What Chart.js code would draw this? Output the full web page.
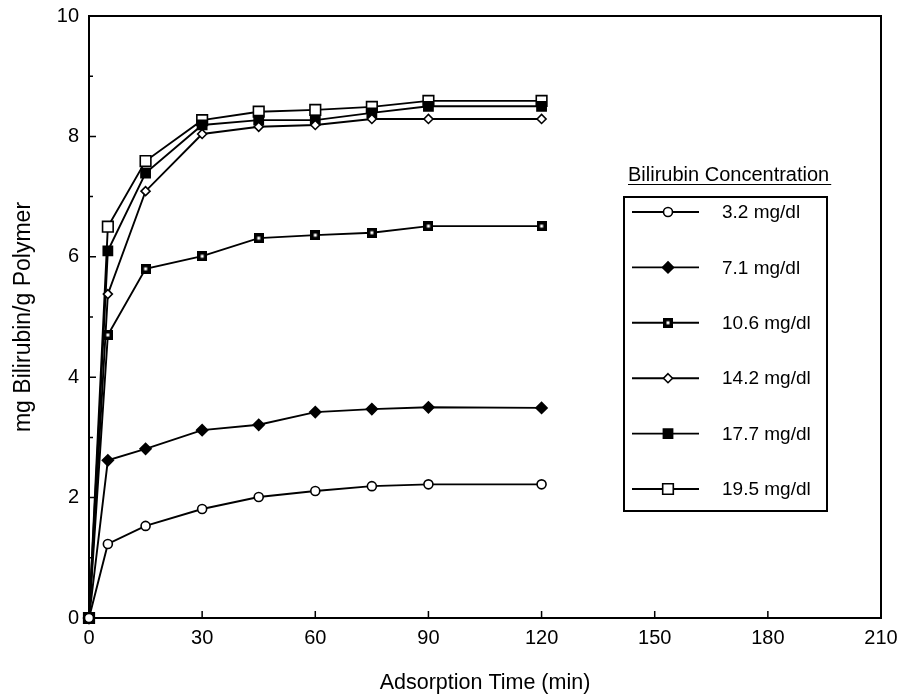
<!DOCTYPE html>
<html lang="en">
<head>
<meta charset="UTF-8">
<title>Bilirubin Adsorption</title>
<script src="https://cdn.jsdelivr.net/npm/chart.js"></script>
<style>
    html, body { margin: 0; padding: 0; background: #fff; }
    #wrap { width: 902px; height: 696px; }
</style>
</head>
<body>
<div id="wrap">
    <canvas id="adsChart" width="902" height="696"></canvas>
</div>
<script>
    // Adsorption time (min)
    const times = [0, 5, 15, 30, 45, 60, 75, 90, 120];

    // mg bilirubin / g polymer, one array per bilirubin concentration
    const conc32 = [0, 1.23, 1.53, 1.81, 2.01, 2.11, 2.19, 2.22, 2.22];
    const conc71 = [0, 2.62, 2.81, 3.12, 3.21, 3.42, 3.47, 3.50, 3.49];
    const conc106 = [0, 4.70, 5.80, 6.01, 6.31, 6.36, 6.40, 6.51, 6.51];
    const conc142 = [0, 5.38, 7.09, 8.04, 8.16, 8.19, 8.29, 8.29, 8.29];
    const conc177 = [0, 6.10, 7.39, 8.19, 8.27, 8.27, 8.39, 8.50, 8.50];
    const conc195 = [0, 6.50, 7.59, 8.27, 8.41, 8.44, 8.49, 8.59, 8.59];

    const seriesLabels = ['3.2 mg/dl', '7.1 mg/dl', '10.6 mg/dl', '14.2 mg/dl', '17.7 mg/dl', '19.5 mg/dl'];
    const xTicks = [0, 30, 60, 90, 120, 150, 180, 210];
    const yTicks = [0, 2, 4, 6, 8, 10];
    const yMinorTicks = [1, 3, 5, 7, 9];

    const FONT = '"Liberation Sans", Arial, Helvetica, sans-serif';

    // black square with a little white dot in the middle
    function dotSquare(size) {
        const c = document.createElement('canvas');
        c.width = size; c.height = size;
        const g = c.getContext('2d');
        g.fillStyle = '#000';
        g.fillRect(0, 0, size, size);
        g.fillStyle = '#fff';
        g.fillRect(size / 2 - 1.5, size / 2 - 1.5, 3, 3);
        return c;
    }
    const dotSq = dotSquare(10);

    // marker look for each series (same order as seriesLabels)
    const markers = [
        { style: 'circle', radius: 4.5, fill: '#fff' },
        { style: 'rectRot', radius: 5.5, fill: '#000' },
        { style: dotSq, radius: 5, fill: '#000' },
        { style: 'rectRot', radius: 4.5, fill: '#fff' },
        { style: 'rect', radius: 6.5, fill: '#000' },
        { style: 'rect', radius: 7.5, fill: '#fff' }
    ];

    const values = [conc32, conc71, conc106, conc142, conc177, conc195];

    const datasets = values.map((vals, i) => ({
        label: seriesLabels[i],
        data: vals.map((v, j) => ({ x: times[j], y: v })),
        borderColor: '#000',
        borderWidth: 1.9,
        pointStyle: markers[i].style,
        pointRadius: markers[i].radius,
        pointBackgroundColor: markers[i].fill,
        pointBorderColor: '#000',
        pointBorderWidth: 1.6,
        tension: 0,
        clip: false
    }));

    // draw one legend marker by hand
    function drawMarker(ctx, m, x, y) {
        ctx.save();
        ctx.fillStyle = m.fill;
        ctx.strokeStyle = '#000';
        ctx.lineWidth = 1.6;
        ctx.beginPath();
        if (m.style === 'circle') {
            ctx.arc(x, y, m.radius, 0, Math.PI * 2);
        } else if (m.style === 'rectRot') {
            ctx.moveTo(x, y - m.radius);
            ctx.lineTo(x + m.radius, y);
            ctx.lineTo(x, y + m.radius);
            ctx.lineTo(x - m.radius, y);
            ctx.closePath();
        } else if (m.style === 'rect') {
            const s = m.radius * Math.SQRT1_2;
            ctx.rect(x - s, y - s, 2 * s, 2 * s);
        } else {
            ctx.drawImage(m.style, x - m.style.width / 2, y - m.style.height / 2);
            ctx.restore();
            return;
        }
        ctx.fill();
        ctx.stroke();
        ctx.restore();
    }

    // frame around the plot and inward tick marks
    const framePlugin = {
        id: 'frame',
        beforeDatasetsDraw(chart) {
            const { ctx, chartArea: a, scales } = chart;
            ctx.save();
            ctx.strokeStyle = '#000';
            ctx.lineWidth = 2;
            ctx.strokeRect(a.left, a.top, a.right - a.left, a.bottom - a.top);
            ctx.lineWidth = 1.5;
            ctx.beginPath();
            xTicks.forEach(t => {
                const px = scales.x.getPixelForValue(t);
                ctx.moveTo(px, a.bottom);
                ctx.lineTo(px, a.bottom - 7);
            });
            yTicks.forEach(t => {
                const py = scales.y.getPixelForValue(t);
                ctx.moveTo(a.left, py);
                ctx.lineTo(a.left + 7, py);
            });
            yMinorTicks.forEach(t => {
                const py = scales.y.getPixelForValue(t);
                ctx.moveTo(a.left, py);
                ctx.lineTo(a.left + 4, py);
            });
            ctx.stroke();
            ctx.restore();
        }
    };

    // boxed legend with an underlined heading
    const legendPlugin = {
        id: 'boxLegend',
        afterDraw(chart) {
            const ctx = chart.ctx;
            ctx.save();
            ctx.fillStyle = '#000';
            ctx.font = '20px ' + FONT;
            ctx.textBaseline = 'alphabetic';
            ctx.textAlign = 'left';
            const title = 'Bilirubin Concentration';
            ctx.fillText(title, 628, 181);
            const tw = ctx.measureText(title).width;
            ctx.lineWidth = 1;
            ctx.beginPath();
            ctx.moveTo(628, 184.5);
            ctx.lineTo(628 + tw + 2, 184.5);
            ctx.stroke();

            ctx.lineWidth = 2;
            ctx.strokeRect(624, 197, 203, 314);

            ctx.font = '19px ' + FONT;
            ctx.textBaseline = 'middle';
            seriesLabels.forEach((lab, i) => {
                const y = 212 + i * 55.4;
                ctx.lineWidth = 1.9;
                ctx.beginPath();
                ctx.moveTo(632, y);
                ctx.lineTo(699, y);
                ctx.stroke();
                drawMarker(ctx, markers[i], 668, y);
                ctx.fillStyle = '#000';
                ctx.fillText(lab, 722, y + 1);
            });
            ctx.restore();
        }
    };

    // keep tick labels from pushing the plot area inward
    function noOverflow(scale) {
        scale.paddingTop = 0;
        scale.paddingBottom = 0;
        scale.paddingLeft = 0;
        scale.paddingRight = 0;
    }

    const ctx = document.getElementById('adsChart').getContext('2d');
    const adsChart = new Chart(ctx, {
        type: 'line',
        data: { datasets: datasets },
        options: {
            responsive: false,
            animation: false,
            layout: { padding: { top: 16, right: 21, left: 0, bottom: 0 } },
            plugins: {
                legend: { display: false },
                tooltip: { enabled: false }
            },
            scales: {
                x: {
                    type: 'linear',
                    min: 0,
                    max: 210,
                    afterFit(scale) { scale.height = 78; noOverflow(scale); },
                    afterBuildTicks(scale) { scale.ticks = xTicks.map(v => ({ value: v })); },
                    grid: { display: false, drawTicks: false },
                    border: { display: false },
                    ticks: {
                        padding: 8,
                        color: '#000',
                        maxRotation: 0,
                        font: { family: FONT, size: 20 }
                    },
                    title: {
                        display: true,
                        text: 'Adsorption Time (min)',
                        color: '#000',
                        padding: { top: 0, bottom: 0 },
                        font: { family: FONT, size: 21.5 }
                    }
                },
                y: {
                    min: 0,
                    max: 10,
                    afterFit(scale) { scale.width = 89; noOverflow(scale); },
                    afterBuildTicks(scale) { scale.ticks = yTicks.map(v => ({ value: v })); },
                    grid: { display: false, drawTicks: false },
                    border: { display: false },
                    ticks: {
                        padding: 10,
                        color: '#000',
                        font: { family: FONT, size: 20 }
                    },
                    title: {
                        display: true,
                        text: 'mg Bilirubin/g Polymer',
                        color: '#000',
                        padding: { top: 10, bottom: 0 },
                        font: { family: FONT, size: 23 }
                    }
                }
            }
        },
        plugins: [framePlugin, legendPlugin]
    });
</script>
</body>
</html>
